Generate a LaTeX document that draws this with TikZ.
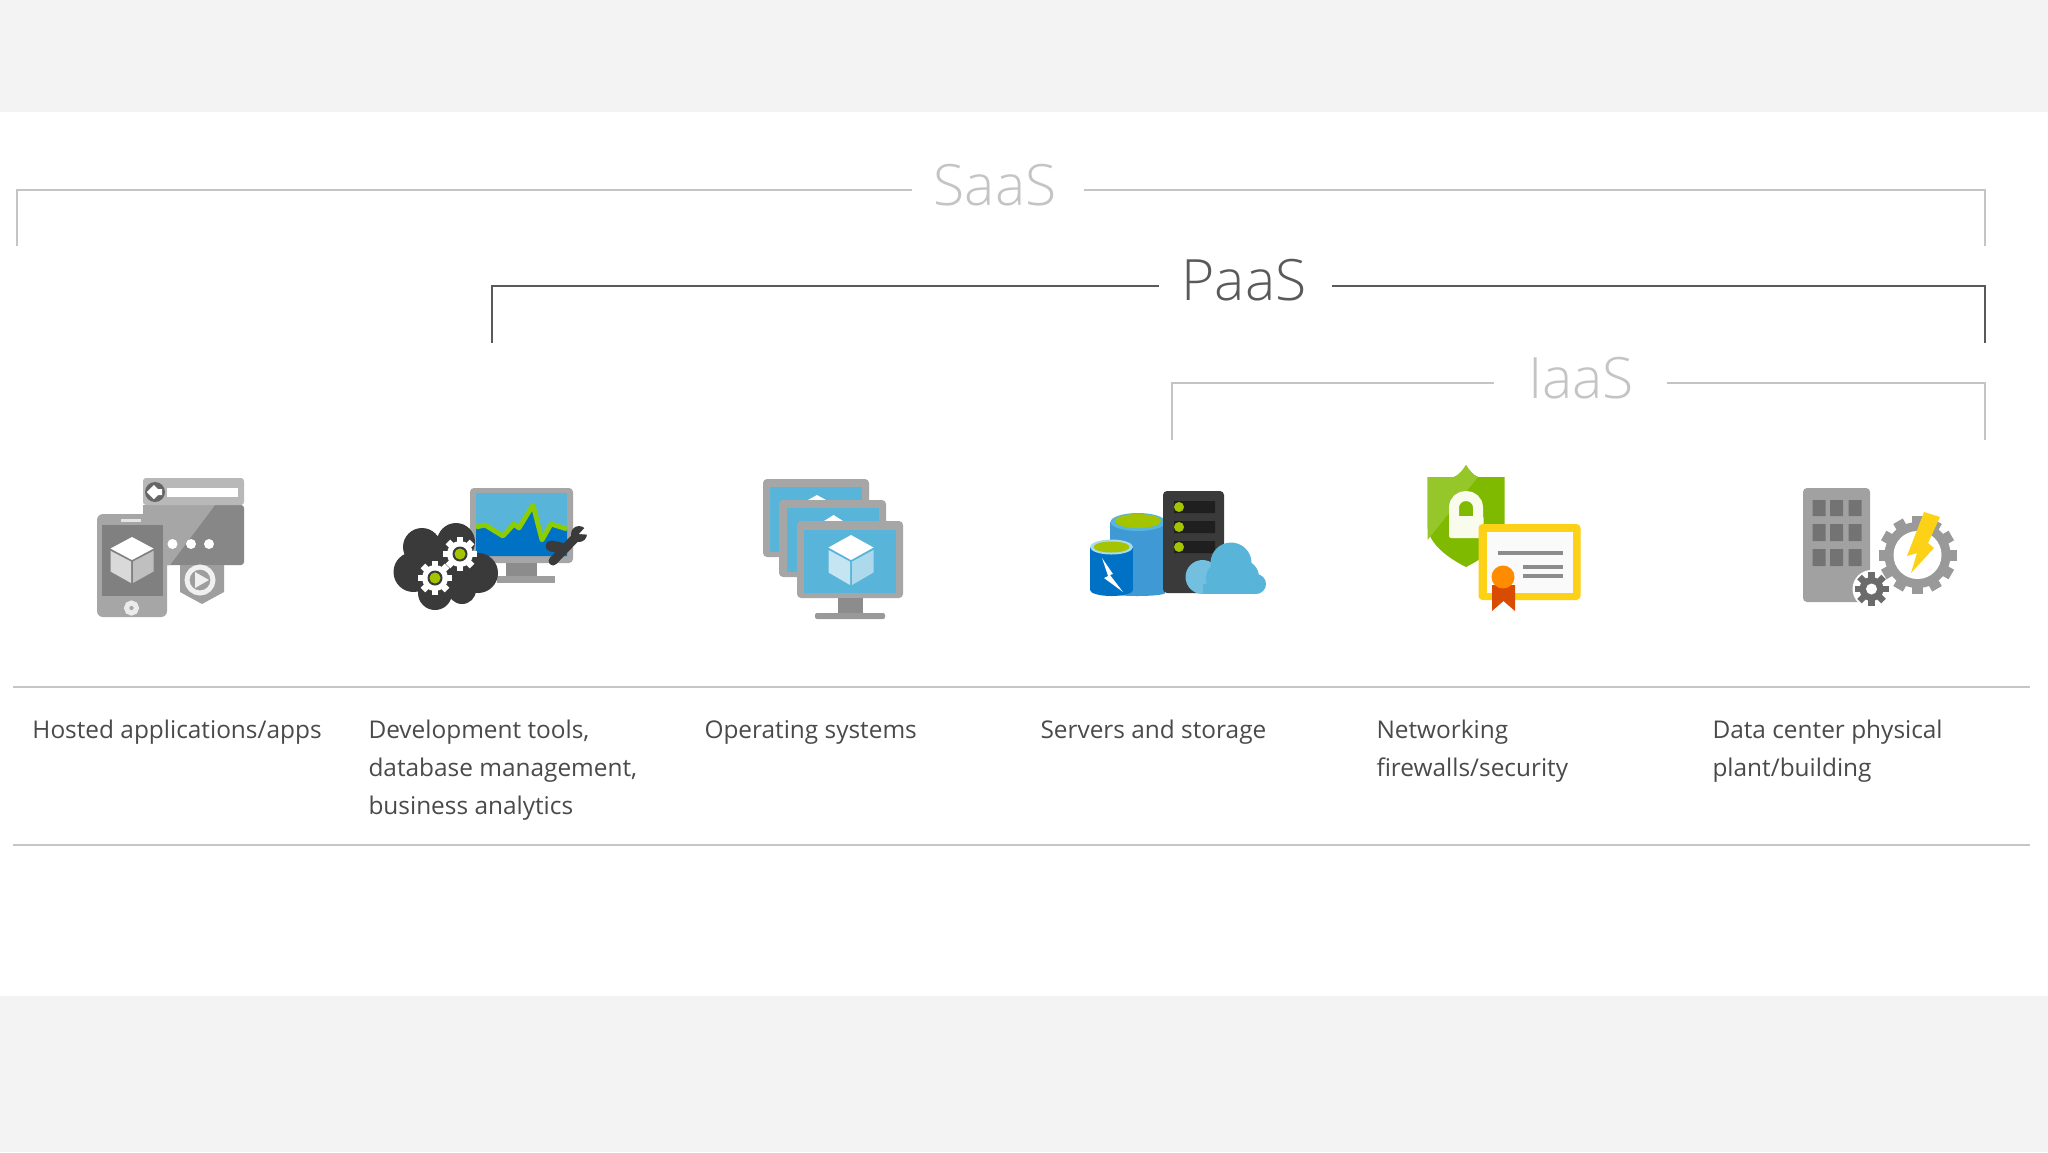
\documentclass[tikz,border=0pt]{standalone}
\usepackage{fontspec}
\setmainfont{Open Sans}
\newfontfamily\headf{Open Sans Light}
\definecolor{bgband}{HTML}{F3F3F3}
\definecolor{rulec}{HTML}{C6C6C6}
\definecolor{txt}{HTML}{4A4A4A}
\definecolor{lhead}{HTML}{C4C4C4}
\definecolor{dhead}{HTML}{5A5A5A}
\definecolor{azl}{HTML}{59B4D9}
\definecolor{azm}{HTML}{3E99D4}
\definecolor{azd}{HTML}{0072C6}
\definecolor{lime}{HTML}{A4C400}
\definecolor{shieldg}{HTML}{7FBA00}
\definecolor{shieldl}{HTML}{95C62A}
\definecolor{dark}{HTML}{3A3A3A}
\definecolor{fram}{HTML}{A6A6A6}
\definecolor{yell}{HTML}{FCD116}
\definecolor{seal}{HTML}{FF8C00}
\definecolor{ribbon}{HTML}{D84B00}
\newcommand{\agear}[7]{%
  \foreach \a in {1,...,#5}{\fill[#7,rotate around={\a*360/#5:(#1,#2)}] ({#1-#6},#2) rectangle ({#1+#6},{#2-#3});}
  \fill[#7] (#1,#2) circle (#4);}
\newcommand{\acube}[7]{%
  \fill[#5] (#1,{#2-#4/2}) -- ({#1+#3/2},{#2-#4/4}) -- (#1,#2) -- ({#1-#3/2},{#2-#4/4}) -- cycle;
  \fill[#6] ({#1-#3/2},{#2-#4/5}) -- ({#1-1},{#2+#4/30}) -- ({#1-1},{#2+#4/2}) -- ({#1-#3/2},{#2+#4/4}) -- cycle;
  \fill[#7] ({#1+#3/2},{#2-#4/5}) -- ({#1+1},{#2+#4/30}) -- ({#1+1},{#2+#4/2}) -- ({#1+#3/2},{#2+#4/4}) -- cycle;}
\tikzset{
  bandrule/.style={draw=rulec,line width=1.1},
  hlabel/.style={inner sep=0pt,font=\headf\fontsize{28.5}{32}\selectfont},
  desc/.style={inner sep=0pt,anchor=north west,align=left,text=txt,font=\fontsize{12.2}{19}\selectfont},
  bracketl/.style={draw=lhead,line width=1.2},
  bracketd/.style={draw=dhead,line width=1.1}
}
\begin{document}
\begin{tikzpicture}[x=0.5pt,y=-0.5pt,line width=0.5pt]
\useasboundingbox (0,0) rectangle (2048,1152);
\fill[bgband] (0,0) rectangle (2048,1152);
\fill[white] (0,112) rectangle (2048,996);

% Brackets
\node[hlabel,text=lhead] (saas) at (995,185) {SaaS};
\node[hlabel,text=dhead] (paas) at (1244,280) {PaaS};
\node[hlabel,text=lhead] (iaas) at (1581,378) {IaaS};
\coordinate (sa) at (17,246); \coordinate (sb) at (912,190); \coordinate (sc) at (1084,190); \coordinate (sd) at (1985,246);
\coordinate (pa) at (492,343); \coordinate (pb) at (1159,286); \coordinate (pc) at (1332,286); \coordinate (pd) at (1985,343);
\coordinate (ia) at (1172,440); \coordinate (ib) at (1494,383); \coordinate (ic) at (1667,383); \coordinate (id) at (1985,440);
\draw[bracketl] (sa) |- (sb); \draw[bracketl] (sc) -| (sd);
\draw[bracketd] (pa) |- (pb); \draw[bracketd] (pc) -| (pd);
\draw[bracketl] (ia) |- (ib); \draw[bracketl] (ic) -| (id);

% Rules
\coordinate (r1a) at (13,687); \coordinate (r1b) at (2030,687);
\coordinate (r2a) at (13,845); \coordinate (r2b) at (2030,845);
\draw[bandrule] (r1a) -- (r1b);
\draw[bandrule] (r2a) -- (r2b);

% Descriptions
\node[desc] (d1) at (32,711) {\strut Hosted applications/apps};
\node[desc] (d2) at (368,711) {\strut Development tools,\\database management,\\business analytics};
\node[desc] (d3) at (704,711) {\strut Operating systems};
\node[desc] (d4) at (1040,711) {\strut Servers and storage};
\node[desc] (d5) at (1376,711) {\strut Networking\\firewalls/security};
\node[desc] (d6) at (1712,711) {\strut Data center physical\\plant/building};

% Icon 1: apps
\fill[black!47,rounded corners=1.5] (143,505) rectangle (244,565);
\fill[black!35] (143,505) -- (215,505) -- (170,565) -- (143,565) -- cycle;
\fill[black!28,rounded corners=1.5] (143,478) rectangle (244,505);
\fill[white] (167,488) rectangle (238,497);
\fill[black!60] (155,492) circle (10);
\draw[white,line width=3] (162,492) -- (151,492) (156,487) -- (151,492) -- (156,497);
\fill[black!35,rounded corners=3] (97,514) rectangle (167,617);
\fill[black!50] (102,525) rectangle (163,596);
\fill[black!10] (121,519) rectangle (141,522);
\acube{132}{560}{43}{46}{white}{black!15}{black!25}
\fill[white] (172.5,544) circle (5) (191,544) circle (5) (209,544) circle (5);
\draw[black!8,line width=2.5] (131.5,608) circle (5);
\fill[black!38] (180,565) -- (224,565) -- (224,592) -- (202,604) -- (180,592) -- cycle;
\draw[black!6,line width=2.5] (200,580) circle (13);
\fill[black!6] (195,572) -- (209,580) -- (195,588) -- cycle;

% Icon 2: dev tools
\fill[fram,rounded corners=2] (470,488) rectangle (573,563);
\fill[azl] (476,493) rectangle (567,556);
\fill[azd] (476,527) -- (485,525) -- (503,536) -- (514,524) -- (519,528) -- (533,505) -- (542,540) -- (551,524) -- (567,529) -- (567,556) -- (476,556) -- cycle;
\draw[lime!85!green,line width=2.4,line join=round] (476,527) -- (485,525) -- (503,536) -- (514,524) -- (519,528) -- (533,505) -- (542,540) -- (551,524) -- (567,529);
\fill[black!45] (506,563) rectangle (537,576);
\fill[black!38] (497,576) rectangle (555,583);
\fill[dark] (422,547) circle (19) (456,542) circle (19) (413.5,572) circle (20) (478,573) circle (20) (435,593) circle (17) (462,590) circle (14) (445,565) circle (30);
\agear{460}{554}{17}{13}{8}{3.2}{white}
\fill[dark] (460,554) circle (7.5); \fill[lime] (460,554) circle (5.5);
\agear{435}{578}{17}{13}{8}{3.2}{white}
\fill[dark] (435,578) circle (7.5); \fill[lime] (435,578) circle (5.5);
\draw[dark,line width=4.5,line cap=round] (553,561) -- (578,535);
\draw[dark,line width=5.5,line cap=round] (551,546) -- (561,548);
\fill[dark] (579,534) circle (8);
\fill[white] (590,522) -- (579,534) -- (592,535) -- cycle;

% Icon 3: OS
\fill[fram,rounded corners=2] (763,479) rectangle (869,557);
\fill[azl] (770,487) rectangle (862,552);
\fill[white] (817,495) -- (826,500) -- (808,500) -- cycle;
\fill[fram,rounded corners=2] (779,500) rectangle (886,577);
\fill[azl] (787,508) rectangle (879,572);
\fill[white] (833.6,515) -- (843,521) -- (824,521) -- cycle;
\fill[fram,rounded corners=2] (797,521) rectangle (903,598);
\fill[azl] (804,530) rectangle (896,593);
\acube{851}{560}{45}{50}{white}{azl!35!white}{azl!50!white}
\fill[black!45] (838,598) rectangle (863,613);
\fill[black!40,rounded corners=1] (815,613) rectangle (885,619);

% Icon 4: servers and storage
\fill[azm] (1110,522) rectangle (1165,593);
\fill[azm] (1137.5,593) ellipse[x radius=27.5,y radius=3];
\fill[azl] (1138,522) ellipse[x radius=27.5,y radius=9];
\fill[lime] (1138,521) ellipse[x radius=23,y radius=7];
\fill[azd] (1090,547) rectangle (1133,590);
\fill[azd] (1111.5,590) ellipse[x radius=21.5,y radius=6];
\fill[azl!50!white] (1111.5,547) ellipse[x radius=21.5,y radius=7.5];
\fill[lime] (1111.5,547) ellipse[x radius=18,y radius=5.5];
\fill[white] (1102,558) -- (1113,574) -- (1110,575) -- (1123,592) -- (1104,578) -- (1108,576) -- cycle;
\fill[dark,rounded corners=2] (1163,491) rectangle (1224,593);
\fill[black!88] (1174,501) rectangle (1215,513) (1174,521) rectangle (1215,533) (1174,541) rectangle (1215,553);
\fill[lime] (1179,507) circle (5) (1179,527) circle (5) (1179,547) circle (5);
\fill[azl!85!white] (1202.5,577) circle (17);
\fill[azl] (1231,563) circle (20.5);
\fill[azl] (1256,584) circle (10);
\fill[azl] (1203,584) rectangle (1256,594);
\fill[azl] (1222,578) circle (16);
\fill[azl] (1242,577) circle (17);

% Icon 5: security
\fill[shieldg] (1466,465) .. controls (1469,470) and (1473,475) .. (1478,477) -- (1504.5,477) -- (1504.5,525) .. controls (1504.5,545) and (1480,560) .. (1466,567) .. controls (1452,560) and (1427.5,545) .. (1427.5,525) -- (1427.5,477) -- (1454,477) .. controls (1459,475) and (1463,470) .. (1466,465) -- cycle;
\fill[shieldl] (1427.5,477) -- (1454,477) .. controls (1459,475) and (1463,470) .. (1466,465) .. controls (1469,470) and (1473,475) .. (1478,477) -- (1427.5,540) -- cycle;
\draw[white!93!lime,line width=5] (1454,518) -- (1454,508) .. controls (1454,492) and (1478,492) .. (1478,508) -- (1478,518);
\fill[white!93!lime,rounded corners=1] (1449,516) rectangle (1483.5,538);
\fill[yell,rounded corners=2] (1478.5,524) rectangle (1580.5,600);
\fill[white!98!black] (1487,532) rectangle (1573,593);
\draw[black!45,line width=2.2] (1497.5,553) -- (1562.5,553) (1523,567) -- (1562.5,567) (1523,576) -- (1562.5,576);
\fill[ribbon] (1492,585) -- (1515,585) -- (1515,611) -- (1503.5,601) -- (1492,611) -- cycle;
\fill[seal] (1503,577) circle (11.5);

% Icon 6: data center
\fill[black!37,rounded corners=2] (1803,488) rectangle (1870,602);
\fill[black!55] (1812.5,500) rectangle (1825.5,516) (1830,500) rectangle (1843,516) (1848.5,500) rectangle (1861.5,516)
 (1812.5,524) rectangle (1825.5,541) (1830,524) rectangle (1843,541) (1848.5,524) rectangle (1861.5,541)
 (1812.5,549) rectangle (1825.5,566) (1830,549) rectangle (1843,566) (1848.5,549) rectangle (1861.5,566);
\fill[white] (1871.5,589) circle (19);
\agear{1871.5}{589}{17}{12}{8}{3.2}{black!58}
\fill[white] (1871.5,589) circle (5.5);
\agear{1917.5}{555}{39}{33}{12}{5.5}{black!40}
\fill[white] (1917.5,555) circle (24);
\fill[yell] (1924,512) -- (1940,517) -- (1928,543) -- (1934,548) -- (1911,573) -- (1917,553) -- (1907,556) -- cycle;
\end{tikzpicture}
\end{document}
